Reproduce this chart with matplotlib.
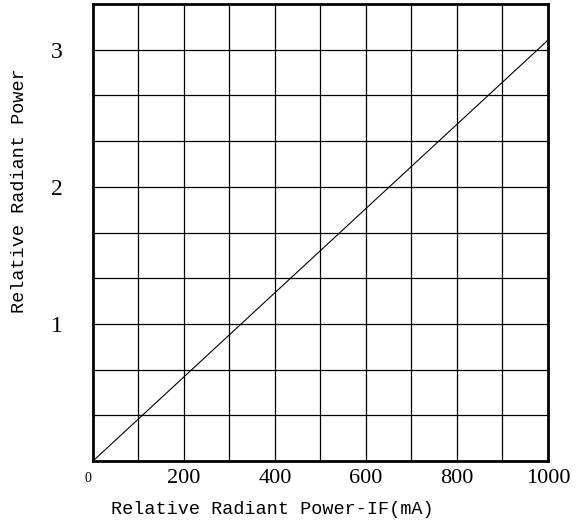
import matplotlib
matplotlib.use('Agg')
import matplotlib.pyplot as plt
import numpy as np

# data
current_ma = [0, 1000]
rel_power = [0.0, 3.07]

x_ticks = [0, 200, 400, 600, 800, 1000]
x_ticklabels = ['0', '200', '400', '600', '800', '1000']
y_ticks = [1, 2, 3]
y_ticklabels = ['1', '2', '3']

W, H = 580, 524
fig = plt.figure(figsize=(W / 100, H / 100), dpi=100)
ax = fig.add_axes([93 / W, 1 - 461 / H, 455 / W, 457 / H])

ax.set_xlim(0, 1000)
ax.set_ylim(0, 10 / 3)

# grid: 10 columns x 10 rows
for gx in np.arange(100, 1000, 100):
    ax.axvline(gx, color='black', lw=0.9, zorder=1)
for gy in np.arange(1, 10) / 3:
    ax.axhline(gy, color='black', lw=0.9, zorder=1)

ax.plot(current_ma, rel_power, color='black', lw=0.8, zorder=2)

for s in ax.spines.values():
    s.set_linewidth(2.0)

ax.set_xticks(x_ticks[1:])
ax.set_xticklabels(x_ticklabels[1:], fontfamily='Liberation Serif', fontsize=16)
ax.set_yticks(y_ticks)
ax.set_yticklabels(y_ticklabels, fontfamily='Liberation Serif', fontsize=17)
ax.tick_params(axis='x', length=0, pad=6)
ax.tick_params(axis='y', length=0, pad=22)
fig.text(88 / W, 1 - 478 / H, x_ticklabels[0], ha='center', va='center',
         fontfamily='Liberation Serif', fontsize=10)

fig.text(272 / W, 1 - 510 / H, 'Relative Radiant Power-IF(mA)', ha='center', va='center',
         fontfamily='Liberation Mono', fontsize=13.3)
fig.text(20 / W, 1 - 191 / H, 'Relative Radiant Power', ha='center', va='center',
         rotation=90, fontfamily='Liberation Mono', fontsize=13.3)

fig.savefig('out.png', dpi=100)
